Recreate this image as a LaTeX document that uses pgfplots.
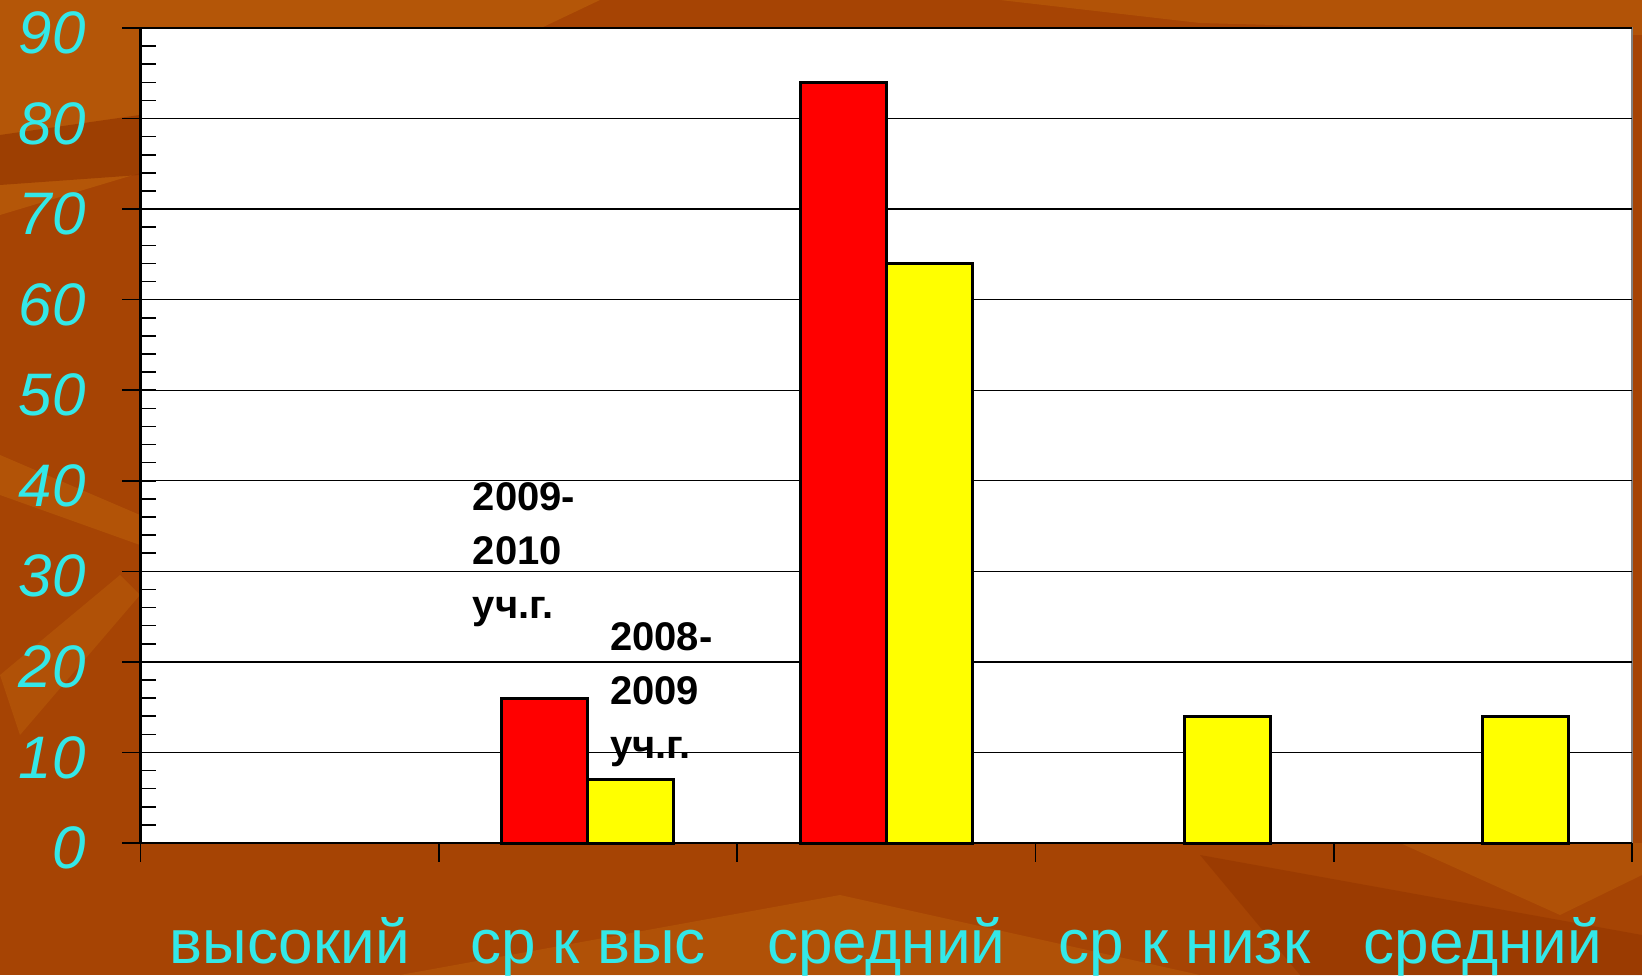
\documentclass[border=0pt]{standalone}
\usepackage{fontspec}
\setmainfont{Liberation Sans}
\usepackage{pgfplots}
\pgfplotsset{compat=1.18}
\definecolor{bg}{RGB}{166,68,4}
\definecolor{bglight}{RGB}{186,94,10}
\definecolor{bgdark}{RGB}{148,54,0}
\definecolor{cyanlab}{RGB}{51,232,232}
\definecolor{barred}{RGB}{255,0,0}
\definecolor{baryel}{RGB}{255,255,0}
\begin{document}
\begin{tikzpicture}
\fill[bg] (0pt,0pt) rectangle (821pt,487.5pt);
\fill[bglight,opacity=0.7] (0pt,487.5pt) -- (300pt,487.5pt) -- (200pt,440pt) -- (0pt,380pt) -- cycle;
\fill[bgdark,opacity=0.7] (0pt,420pt) -- (70pt,430pt) -- (70pt,400pt) -- (0pt,395pt) -- cycle;
\fill[bglight,opacity=0.6] (0pt,260pt) -- (70pt,230pt) -- (70pt,215pt) -- (0pt,240pt) -- cycle;
\fill[bglight,opacity=0.5] (0pt,150pt) -- (60pt,200pt) -- (70pt,190pt) -- (10pt,120pt) -- cycle;
\fill[bglight,opacity=0.5] (200pt,0pt) -- (420pt,40pt) -- (600pt,0pt) -- cycle;
\fill[bgdark,opacity=0.6] (600pt,60pt) -- (821pt,20pt) -- (821pt,0pt) -- (650pt,0pt) -- cycle;
\fill[bglight,opacity=0.5] (700pt,66pt) -- (780pt,30pt) -- (821pt,50pt) -- (821pt,66pt) -- cycle;
\fill[bglight,opacity=0.6] (500pt,487.5pt) -- (821pt,487.5pt) -- (821pt,470pt) -- (600pt,476pt) -- cycle;
\begin{axis}[
  at={(70.25pt,66pt)}, anchor=south west,
  scale only axis, width=745.75pt, height=407.5pt,
  xmin=-0.5, xmax=4.5, ymin=0, ymax=90,
  axis background/.style={fill=white},
  ybar=0pt, bar width=43pt,
  /pgf/number format/assume math mode=true,
  xtick pos=bottom, ytick pos=left,
  xtick={-0.5,0.5,1.5,2.5,3.5,4.5},
  xticklabels={,,,,,},
  extra x ticks={0,1,2,3,4},
  extra x tick labels={высокий, ср к выс, средний, ср к низк, средний},
  extra x tick style={major tick length=0pt,
     xticklabel style={font=\fontsize{31}{31}\selectfont, text=cyanlab, anchor=base, yshift=-60pt}},
  ytick={0,10,...,90},
  yticklabels={,,,,,,,,,},
  minor y tick num=4,
  tick align=inside,
  major tick length=7.5pt, minor tick length=7.5pt,
  x tick style={draw=none},
  extra y ticks={0,10,...,90},
  extra y tick style={tick align=outside, major tick length=9pt,
     yticklabel style={font=\fontsize{30}{30}\selectfont\itshape, text=cyanlab, anchor=east, xshift=-15pt, yshift=-2.5pt}},
  ymajorgrids, major grid style={black, line width=0.7pt},
  tick style={black, line width=0.8pt},
  axis line style={draw=gray, line width=1.3pt},
  clip=false,
]
\addplot[fill=barred, draw=black, line width=1.5pt] coordinates {(1,16) (2,84)};
\addplot[fill=baryel, draw=black, line width=1.5pt] coordinates {(1,7) (2,64) (3,14) (4,14)};
\draw[black, line width=1.2pt] (rel axis cs:0,0) -- (rel axis cs:0,1);
\pgfplotsinvokeforeach{-0.5,0.5,1.5,2.5,3.5,4.5}{
  \draw[black, line width=0.8pt] (axis cs:#1,0) -- ++(0pt,-9.5pt);
}
\node[anchor=north west, align=left, inner sep=0pt, font=\fontsize{20}{27}\selectfont\bfseries] at (axis cs:0.613,39.8) {2009-\\2010\\уч.г.};
\node[anchor=north west, align=left, inner sep=0pt, font=\fontsize{20}{27}\selectfont\bfseries] at (axis cs:1.073,24.4) {2008-\\2009\\уч.г.};
\end{axis}
\pgfresetboundingbox
\path (0pt,0pt) rectangle (821pt,487.5pt);
\end{tikzpicture}
\end{document}
